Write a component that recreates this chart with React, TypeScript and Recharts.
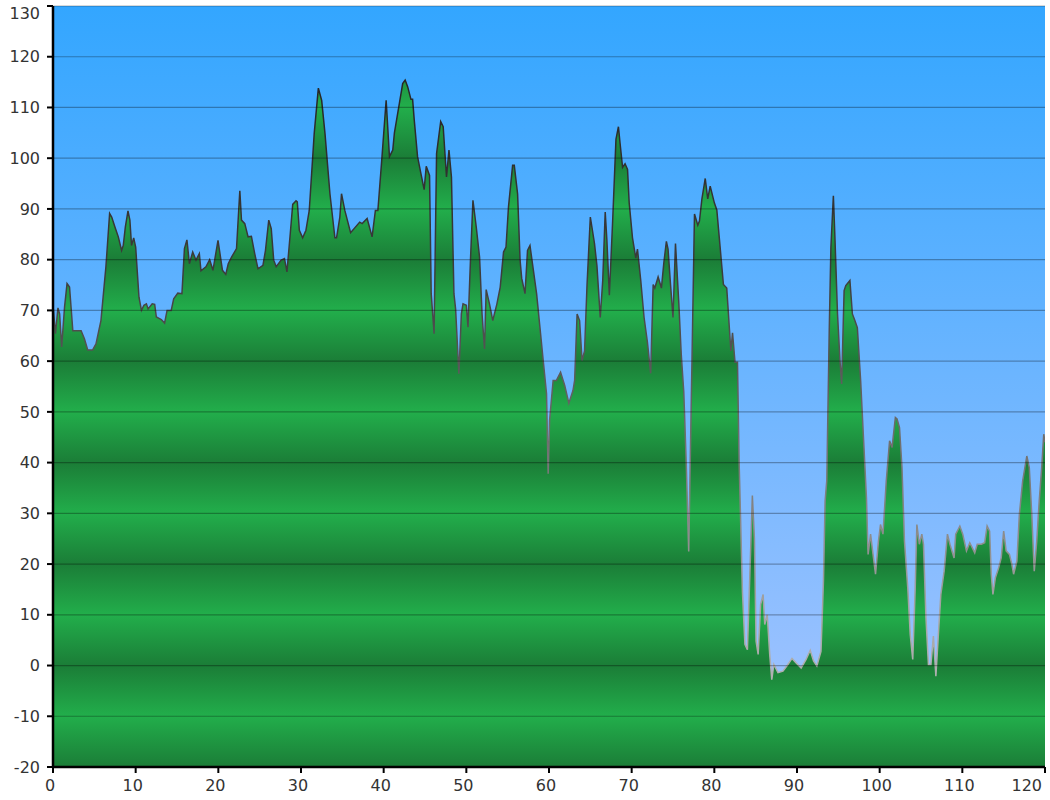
import React from 'react';
import { AreaChart, Area, XAxis, YAxis, CartesianGrid } from 'recharts';

const xValues = [
  0, 0.3, 0.6, 0.8, 1.05, 1.4, 1.7, 2.0, 2.4, 3.4, 3.8, 4.2, 4.8, 5.2, 5.8, 6.4, 6.85, 7.1, 7.5, 7.9,
  8.3, 8.5, 8.75, 9.07, 9.3, 9.5, 9.76, 10.0, 10.4, 10.7, 11.0, 11.3, 11.5, 12.0, 12.3, 12.5, 13.1, 13.5, 13.8, 14.3,
  14.6, 15.1, 15.6, 15.9, 16.2, 16.5, 16.9, 17.3, 17.7, 17.9, 18.5, 18.95, 19.35, 19.96, 20.5, 20.9, 21.2, 21.6, 22.2, 22.6,
  22.8, 23.2, 23.6, 24.0, 24.4, 24.8, 25.4, 25.7, 26.1, 26.4, 26.7, 27.0, 27.6, 28.0, 28.3, 28.7, 29.0, 29.4, 29.55, 29.8,
  30.2, 30.6, 31.0, 31.6, 32.1, 32.5, 32.9, 33.5, 34.1, 34.3, 34.7, 34.9, 35.3, 36.0, 37.1, 37.4, 38.0, 38.6, 39.0, 39.3,
  39.8, 40.3, 40.7, 41.1, 41.3, 41.9, 42.3, 42.6, 42.9, 43.3, 43.5, 43.7, 44.1, 44.5, 44.9, 45.15, 45.55, 45.75, 46.1, 46.4,
  46.9, 47.2, 47.6, 47.9, 48.2, 48.5, 48.7, 49.1, 49.4, 49.6, 50.0, 50.2, 50.5, 50.8, 51.2, 51.6, 51.9, 52.2, 52.4, 52.8,
  53.2, 53.7, 54.1, 54.5, 54.8, 55.1, 55.6, 55.8, 56.2, 56.5, 56.7, 57.1, 57.4, 57.7, 58.0, 58.5, 58.9, 59.3, 59.7, 59.9,
  60.07, 60.5, 60.9, 61.4, 61.9, 62.4, 62.9, 63.1, 63.4, 63.7, 64.0, 64.3, 64.6, 65.0, 65.5, 65.8, 66.2, 66.5, 66.8, 67.0,
  67.3, 67.7, 68.1, 68.4, 68.6, 68.9, 69.2, 69.5, 69.7, 70.1, 70.5, 70.7, 71.1, 71.5, 71.9, 72.3, 72.6, 72.8, 73.2, 73.6,
  73.9, 74.2, 74.4, 74.7, 75.0, 75.3, 75.7, 76.0, 76.3, 76.6, 76.9, 77.2, 77.6, 78.0, 78.2, 78.5, 78.9, 79.2, 79.5, 80.0,
  80.3, 80.6, 81.1, 81.5, 82.0, 82.2, 82.5, 82.8, 83.0, 83.4, 83.7, 84.0, 84.3, 84.6, 84.85, 85.05, 85.3, 85.6, 85.9, 86.1,
  86.4, 86.7, 86.95, 87.2, 87.7, 88.3, 88.9, 89.4, 89.9, 90.5, 91.1, 91.6, 92.0, 92.4, 92.9, 93.2, 93.4, 93.6, 93.9, 94.1,
  94.4, 94.6, 94.9, 95.2, 95.4, 95.7, 95.9, 96.4, 96.7, 97.0, 97.3, 97.7, 98.1, 98.4, 98.6, 98.9, 99.2, 99.5, 99.85, 100.1,
  100.4, 100.8, 101.2, 101.5, 101.9, 102.1, 102.4, 102.7, 103.0, 103.4, 103.7, 104.0, 104.3, 104.5, 104.8, 105.1, 105.3, 105.6, 105.9, 106.2,
  106.5, 106.8, 107.1, 107.4, 107.8, 108.2, 108.5, 109.0, 109.2, 109.7, 110.05, 110.5, 110.9, 111.3, 111.5, 111.8, 112.3, 112.7, 113.0, 113.3,
  113.5, 113.7, 114.0, 114.4, 114.7, 115.0, 115.3, 115.7, 116.0, 116.2, 116.6, 116.9, 117.3, 117.8, 118.1, 118.4, 118.7, 119.0, 119.3, 119.6,
  119.85, 120,
];

const yValues = [
  71, 65.4, 70.5, 69.3, 62.8, 70.7, 75.3, 74.6, 66, 66, 64.4, 62.2, 62.2, 63.4, 68, 78.6, 89.1, 88.4, 86.4, 84.5,
  81.8, 82.8, 86.4, 89.6, 87.8, 82.8, 84.3, 82.5, 72.6, 70, 71, 71.3, 70.3, 71.3, 71.2, 68.7, 68.2, 67.5, 70, 70,
  72.3, 73.4, 73.3, 82.2, 83.9, 79.2, 81.5, 79.9, 81.2, 77.8, 78.6, 80, 77.9, 83.8, 77.9, 77.1, 79.2, 80.5, 82.2, 93.6,
  87.8, 87.1, 84.5, 84.6, 81.2, 78.2, 78.9, 81.8, 87.8, 86.1, 79.9, 78.6, 79.9, 80.2, 77.6, 85.1, 90.9, 91.6, 91.4, 85.8,
  84.3, 85.8, 89.7, 104.9, 113.8, 111.4, 104.9, 93, 84.3, 84.3, 88.4, 93, 89.7, 85.3, 87.4, 87.1, 88.1, 84.5, 89.7, 89.7,
  100.3, 111.4, 100.3, 101.6, 105, 110.8, 114.7, 115.4, 114.1, 111.6, 111.6, 107.5, 100.3, 97, 93.8, 98.4, 96.6, 73.3, 65.4, 100.9,
  107.2, 106.2, 96.3, 101.6, 96.3, 73.3, 70.3, 57.5, 69.3, 71.3, 71, 66.7, 79.9, 91.7, 86.4, 80.5, 69.3, 62.4, 74.1, 71.3,
  68, 71.3, 74.6, 81.5, 82.5, 90.4, 98.6, 98.6, 93, 79.9, 76.3, 73.3, 81.8, 82.8, 79.2, 73.3, 66.7, 60.1, 53.6, 37.8,
  48.3, 56.2, 56.2, 57.8, 55.2, 51.7, 54.2, 56.2, 69.3, 68, 60.1, 62, 75, 88.4, 83.2, 78.8, 68.6, 75.9, 89.4, 83.9,
  73, 87.6, 103.7, 106.2, 102.9, 98.2, 98.9, 97.8, 91.2, 84.3, 80.3, 82.1, 75.9, 68.6, 63.8, 57.6, 75.1, 74.4, 76.6, 74.4,
  79.5, 83.6, 82.1, 75.1, 68.6, 83.2, 71.5, 61.3, 54, 40, 22.5, 51, 89, 86.8, 87.6, 92, 96, 92, 94.5, 91.2,
  89.8, 84.3, 75.1, 74.4, 62, 65.6, 59.8, 59.8, 40, 14.5, 4.2, 3.1, 18.1, 33.5, 25, 4.8, 2.2, 12, 14, 8.1,
  10, 2.2, -2.8, 0.2, -1.4, -1.1, 0.2, 1.4, 0.5, -0.5, 1.2, 3, 0.9, -0.1, 2.8, 16.6, 32.4, 36.4, 66, 82.4,
  92.6, 83.8, 69.3, 60.1, 55.5, 73.9, 74.9, 75.9, 69.3, 68, 66.6, 56.1, 43, 33.1, 21.9, 25.9, 21.9, 18, 24.5, 27.8,
  25.9, 36.4, 44.3, 43, 48.9, 48.6, 46.9, 39, 24.5, 15.3, 6.1, 1.2, 15.3, 27.8, 23.9, 25.9, 23.9, 9.4, 0.2, 0.2,
  5.8, -2.1, 6.1, 14, 18.6, 25.9, 23.9, 21.2, 25.9, 27.5, 25.9, 22.6, 24.2, 22.9, 22.2, 23.9, 23.9, 24.2, 27.5, 26.5,
  18, 14, 17.3, 19.3, 21.2, 26.5, 22.6, 21.9, 19.9, 18, 20.6, 29.8, 36.4, 41.3, 39, 29.8, 18.6, 24.5, 32.4, 39,
  45.6, 44,
];

const xTicks = [0, 10, 20, 30, 40, 50, 60, 70, 80, 90, 100, 110, 120];
const yTicks = [-20, -10, 0, 10, 20, 30, 40, 50, 60, 70, 80, 90, 100, 110, 120, 130];

const data = xValues.map((x, i) => ({ x, v: yValues[i] }));

const W = 1050;
const H = 800;
const PLOT_TOP = 6;
const PLOT_BOTTOM = 767;
const Y_MIN = -20;
const Y_MAX = 130;

const FONT = '"DejaVu Sans", Verdana, sans-serif';

function YTick(props: any) {
  const { x, y, payload } = props;
  const yy = Math.max(y, 13);
  return (
    <text x={x} y={yy} dy="0.355em" textAnchor="end" fontFamily={FONT} fontSize={16} fill="#333">
      {payload.value}
    </text>
  );
}

function XTick(props: any) {
  const { x, y, payload } = props;
  const atEnd = x + 18 > W;
  return (
    <text
      x={atEnd ? W - 8 : x - 3}
      y={y}
      dy="0.71em"
      textAnchor={atEnd ? 'end' : 'middle'}
      fontFamily={FONT}
      fontSize={16}
      fill="#333"
    >
      {payload.value}
    </text>
  );
}

export default function App() {
  const bandStops = [...yTicks]
    .reverse()
    .map((t) => ({
      offset: (Y_MAX - t) / (Y_MAX - Y_MIN),
      color: t % 20 === 0 ? '#1b7d37' : '#22ae4b',
    }));
  return (
    <div style={{ width: W, height: H }}>
      <style>{'body{margin:0}'}</style>
      <AreaChart width={W} height={H} data={data} margin={{ top: PLOT_TOP, right: 5, bottom: 0, left: 0 }}>
        <defs>
          <linearGradient id="bgGrad" x1="0" y1="0" x2="0" y2="1">
            <stop offset="0%" stopColor="#33a6ff" />
            <stop offset="100%" stopColor="#a8c5ff" />
          </linearGradient>
          <linearGradient id="greenBands" gradientUnits="userSpaceOnUse" x1="0" y1={PLOT_TOP} x2="0" y2={PLOT_BOTTOM}>
            {bandStops.map((s, i) => (
              <stop key={i} offset={s.offset} stopColor={s.color} />
            ))}
          </linearGradient>
          <linearGradient id="strokeGrad" gradientUnits="userSpaceOnUse" x1="0" y1={PLOT_TOP} x2="0" y2={PLOT_BOTTOM}>
            <stop offset="0" stopColor="#1e1e1e" />
            <stop offset="0.35" stopColor="#3c3c3c" />
            <stop offset="0.55" stopColor="#6a6a6a" />
            <stop offset="0.8" stopColor="#a5a5a5" />
            <stop offset="1" stopColor="#c0c0c0" />
          </linearGradient>
        </defs>
        <CartesianGrid horizontal={false} vertical={false} fill="url(#bgGrad)" stroke="none" zIndex={-200} />
        <XAxis
          dataKey="x"
          type="number"
          domain={[0, 120]}
          ticks={xTicks}
          interval={0}
          height={33}
          tickSize={6}
          tickMargin={7}
          tick={<XTick />}
          axisLine={{ stroke: '#000', strokeWidth: 2.5 }}
          tickLine={{ stroke: '#000', strokeWidth: 2 }}
          allowDataOverflow
        />
        <YAxis
          type="number"
          domain={[Y_MIN, Y_MAX]}
          ticks={yTicks}
          interval={0}
          width={53}
          tickSize={6}
          tickMargin={7}
          tick={<YTick />}
          axisLine={{ stroke: '#000', strokeWidth: 2.5 }}
          tickLine={{ stroke: '#000', strokeWidth: 2 }}
          allowDataOverflow
        />
        <Area
          type="linear"
          dataKey="v"
          baseValue={Y_MIN}
          fill="url(#greenBands)"
          fillOpacity={1}
          stroke="url(#strokeGrad)"
          strokeWidth={1.5}
          isAnimationActive={false}
          dot={false}
          activeDot={false}
        />
        <CartesianGrid vertical={false} stroke="#000" strokeOpacity={0.3} strokeWidth={1.2} zIndex={150} />
      </AreaChart>
    </div>
  );
}
